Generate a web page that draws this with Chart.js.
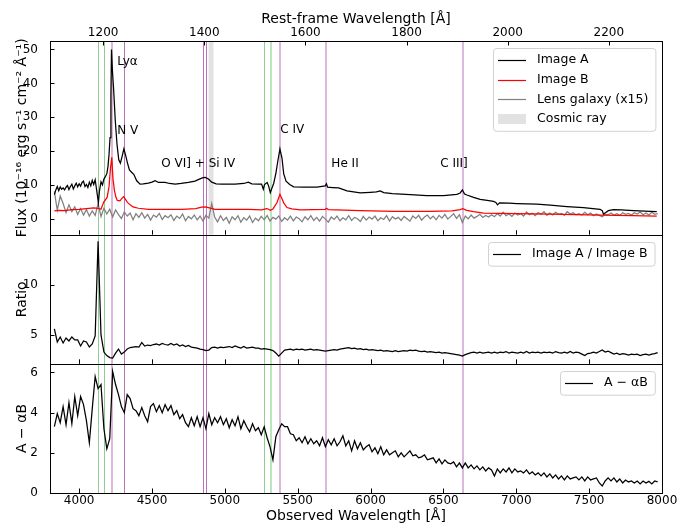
<!DOCTYPE html>
<html>
<head>
<meta charset="utf-8">
<script src="https://cdn.jsdelivr.net/npm/chart.js@4.4.1/dist/chart.umd.min.js"></script>
<style>
  html, body { margin: 0; padding: 0; background: #fff; }
  #spec { display: block; }
</style>
</head>
<body>
<canvas id="spec" width="686" height="527"></canvas>
<script>
// tick labels
const obsTicks = [4000, 4500, 5000, 5500, 6000, 6500, 7000, 7500, 8000];
const restTicks = [1200, 1400, 1600, 1800, 2000, 2200];
const fluxTicks = [0, 10, 20, 30, 40, 50];
const ratioTicks = [5, 10];
const diffTicks = [0, 2, 4, 6];
const onePlusZ = 3.4705;

// Image A and Image B fluxes, [observed wavelength, flux]
const imageA = [
  [3830, 7.2], [3840, 8.6], [3850, 9.6], [3860, 8.4], [3870, 9.5], [3880, 8.8], [3890, 9.2], [3900, 8.6],
  [3910, 9.4], [3920, 9.9], [3930, 8.7], [3940, 9.6], [3950, 10.3], [3960, 8.9], [3970, 9.8], [3980, 10.6],
  [3990, 9.5], [4000, 10.4], [4010, 9.7], [4020, 10.8], [4030, 11.2], [4040, 9.6], [4050, 10.2], [4060, 9.3],
  [4070, 10.9], [4080, 9.8], [4090, 11.4], [4100, 10.2], [4110, 11.6], [4120, 8.6], [4132, 4.8], [4140, 8.5],
  [4150, 11.0], [4160, 10.1], [4170, 11.8], [4180, 12.5], [4190, 13.4], [4198, 15.5], [4205, 19], [4212, 24],
  [4218, 36], [4222, 50], [4228, 44], [4237, 38], [4248, 29], [4260, 22], [4272, 17.5], [4283, 16.5],
  [4295, 18.5], [4307, 20.7], [4318, 19], [4330, 16.8], [4345, 14.5], [4360, 13.8], [4375, 13.2], [4395, 11.3],
  [4418, 10.3], [4440, 10.4], [4475, 10.6], [4500, 10.9], [4521, 11.3], [4545, 10.8], [4590, 10.8], [4620, 10.5],
  [4660, 10.3], [4700, 10.5], [4750, 10.8], [4795, 11.2], [4825, 11.8], [4850, 12.2], [4866, 12.3], [4887, 11.8],
  [4910, 10.9], [4940, 10.4], [4980, 10.3], [5070, 10.3], [5130, 10.5], [5161, 10.9], [5185, 10.4], [5230, 10.3],
  [5252, 10.3], [5264, 8.8], [5272, 10.2], [5290, 10.8], [5300, 9.8], [5312, 7.8], [5322, 9.0], [5335, 10.5],
  [5350, 13.5], [5365, 17.5], [5378, 20.7], [5392, 18.0], [5404, 13.3], [5420, 11.2], [5445, 10.2], [5472, 9.5],
  [5541, 9.4], [5632, 9.4], [5689, 9.8], [5697, 10.4], [5705, 9.4], [5740, 9.3], [5781, 9.2], [5838, 8.3],
  [5929, 7.7], [5998, 7.9], [6040, 8.0], [6066, 8.3], [6090, 7.8], [6150, 7.5], [6272, 7.2], [6386, 6.9],
  [6501, 6.9], [6592, 7.3], [6615, 7.7], [6630, 8.6], [6645, 7.4], [6661, 7.1], [6707, 6.4], [6752, 5.8],
  [6800, 5.5], [6844, 5.2], [6860, 4.9], [6871, 4.2], [6885, 4.8], [6950, 4.7], [7004, 4.6], [7141, 4.4],
  [7233, 4.1], [7347, 3.7], [7461, 3.4], [7575, 2.9], [7590, 2.5], [7598, 1.5], [7612, 1.9], [7632, 2.5],
  [7667, 2.8], [7720, 2.7], [7804, 2.5], [7918, 2.3], [7964, 2.2]
];
const imageB = [
  [3830, 2.4], [3860, 2.6], [3900, 2.5], [3950, 2.8], [4000, 2.9], [4050, 3.1], [4100, 3.3], [4130, 3.2],
  [4150, 2.9], [4169, 5.0], [4192, 6.4], [4205, 9.5], [4215, 15], [4224, 18.2], [4232, 12], [4242, 8.5],
  [4252, 6.5], [4262, 5.5], [4280, 5.4], [4295, 6.2], [4305, 6.6], [4318, 5.8], [4330, 5.0], [4350, 4.2],
  [4370, 3.6], [4407, 3.2], [4475, 2.9], [4600, 2.9], [4704, 2.9], [4800, 3.1], [4841, 3.5], [4866, 3.6],
  [4887, 3.4], [4932, 2.9], [5050, 2.9], [5161, 2.9], [5252, 2.7], [5287, 3.1], [5300, 2.9], [5312, 2.6],
  [5330, 3.0], [5358, 4.9], [5378, 7.3], [5392, 6.0], [5404, 4.8], [5426, 3.4], [5460, 3.0], [5518, 2.7],
  [5690, 2.9], [5697, 3.2], [5710, 2.8], [5929, 2.5], [6158, 2.3], [6400, 2.3], [6560, 2.4], [6615, 2.8],
  [6633, 3.1], [6660, 2.6], [6707, 2.2], [6775, 1.8], [7000, 1.6], [7233, 1.5], [7575, 1.2], [7800, 1.0],
  [7964, 0.9]
];

// regularly sampled spectra: first pixel and pixel width in Angstrom
const gridStart = 3830;
const gridStep = 20;
const lensFlux = [
  8.2, 2.6, 6.8, 4.6, 1.9, 4.2, 2.2, 3.6, 1.4, 3.1,
  1.2, 2.8, 0.9, 2.4, 1.1, 4.6, 0.8, 3.2, 1.5, 2.9,
  0.6, 2.7, 1.3, 0.2, 2.1, 0.9, 1.8, -0.2, 1.6, 0.5,
  1.9, 0.3, 1.4, -0.3, 1.2, 0.6, 1.7, -0.1, 1.0, 0.4,
  1.3, -0.4, 0.9, 0.2, 1.5, -0.5, 0.8, 0.1, 1.2, -0.2,
  0.9, -0.6, 1.1, 0.3, 4.6, 0.6, -0.8, 1.0, -0.4, 0.5,
  -1.2, 0.7, -0.2, 1.0, -0.9, 0.4, -0.3, 0.9, -1.0, 0.3,
  -0.5, 0.8, -0.2, 1.1, -0.6, 0.5, 0.0, 0.9, -0.7, 0.4,
  -0.3, 0.9, -0.5, 0.6, 0.1, -0.8, 0.7, -0.2, 1.0, -0.4,
  0.5, -0.6, 0.8, 0.0, -0.9, 0.6, -0.1, 0.9, -0.5, 0.4,
  -0.2, 1.0, -0.4, 0.5, 0.1, -0.7, 0.8, -0.3, 0.6, 0.0,
  0.9, -0.5, 0.4, -0.1, 1.0, -0.6, 0.7, 0.0, 0.5, -0.4,
  0.8, 0.1, -0.6, 0.9, 0.2, 1.1, -0.3, 0.6, 1.2, 0.1,
  0.9, -0.2, 1.1, 0.3, 1.4, 0.0, 0.8, 1.6, 0.2, 1.3,
  -1.0, 0.9, 0.1, 1.2, 0.3, 0.8, 1.4, 0.5, 1.1, 0.6,
  1.3, 0.7, 1.6, 0.9, 2.0, 1.0, 1.5, 0.8, 1.8, 1.2,
  1.6, 0.9, 2.1, 1.3, 1.7, 1.0, 1.9, 1.4, 2.2, 1.1,
  1.8, 1.2, 2.0, 1.4, 1.7, 1.1, 2.2, 1.5, 1.9, 1.3,
  1.6, 1.2, 2.0, 1.3, 1.8, 1.0, 1.5, 1.1, 0.7, 1.4,
  1.3, 1.8, 1.2, 1.6, 1.1, 1.9, 1.4, 1.7, 1.2, 1.9,
  1.5, 2.1, 1.3, 1.8, 1.2, 2.0, 1.4, 1.6
];
const ratioAB = [
  5.6, 4.3, 4.8, 4.2, 4.7, 4.4, 4.8, 4.5, 4.5, 3.9,
  4.4, 4.3, 3.8, 4.1, 4.9, 14.3, 5.0, 3.3, 2.95, 2.75,
  2.7, 3.2, 3.6, 3.1, 3.3, 3.6, 3.75, 3.8, 3.85, 3.8,
  4.25, 3.9, 4.0, 3.95, 4.05, 4.1, 4.0, 4.15, 4.05, 4.0,
  4.15, 4.0, 4.1, 3.9, 4.0, 3.85, 3.95, 3.8, 3.75, 3.7,
  3.6, 3.55, 3.45, 3.5, 3.75, 3.8, 3.7, 3.8, 3.75, 3.8,
  3.85, 3.75, 3.9, 3.8, 3.7, 3.85, 3.7, 3.75, 3.8, 3.7,
  3.7, 3.6, 3.65, 3.6, 3.55, 3.45, 3.2, 2.9, 3.2, 3.5,
  3.55, 3.6, 3.5, 3.6, 3.55, 3.6, 3.5, 3.55, 3.6, 3.5,
  3.55, 3.5, 3.45, 3.4, 3.45, 3.5, 3.55, 3.5, 3.6, 3.65,
  3.7, 3.75, 3.65, 3.7, 3.6, 3.65, 3.55, 3.6, 3.5, 3.55,
  3.5, 3.45, 3.5, 3.4, 3.45, 3.4, 3.35, 3.45, 3.35, 3.4,
  3.45, 3.4, 3.5, 3.45, 3.5, 3.4, 3.35, 3.4, 3.3, 3.35,
  3.3, 3.25, 3.3, 3.2, 3.25, 3.2, 3.15, 3.1, 3.05, 3.0,
  2.9, 3.05, 3.15, 3.25, 3.3, 3.2, 3.3, 3.2, 3.25, 3.3,
  3.2, 3.3, 3.2, 3.3, 3.25, 3.35, 3.2, 3.3, 3.25, 3.2,
  3.3, 3.2, 3.35, 3.2, 3.3, 3.25, 3.3, 3.2, 3.3, 3.25,
  3.3, 3.2, 3.35, 3.25, 3.2, 3.3, 3.2, 3.35, 3.2, 3.3,
  3.25, 3.1, 2.95, 3.15, 3.2, 3.3, 3.2, 3.35, 3.5, 3.3,
  3.4, 3.25, 3.1, 3.2, 3.05, 3.15, 3.1, 3.0, 3.1, 3.05,
  3.1, 2.95, 3.05, 3.1, 3.0, 3.1, 3.15, 3.25
];
const diffAB = [
  3.3, 3.95, 3.5, 4.3, 3.4, 4.5, 3.45, 4.8, 3.85, 4.8,
  4.4, 3.6, 2.5, 4.2, 5.8, 5.2, 5.4, 3.2, 2.2, 2.7,
  6.05, 5.4, 4.9, 4.3, 4.0, 4.9, 4.7, 4.2, 4.1, 3.85,
  4.25, 3.85, 3.55, 4.3, 4.45, 4.05, 4.35, 4.0, 4.4, 4.1,
  4.35, 3.9, 4.1, 3.7, 3.9, 3.5, 3.3, 3.75, 3.35, 3.8,
  3.3, 3.75, 3.2, 3.95, 3.4, 3.75, 3.5, 3.8, 3.4, 3.7,
  3.25, 3.65, 3.35, 3.8, 3.2, 3.6, 3.3, 3.05, 3.45, 3.1,
  3.25, 2.9, 3.3, 2.75, 2.3, 1.65, 2.8, 3.15, 3.45, 3.3,
  3.3, 2.95, 2.9, 2.6, 2.75, 2.5, 2.8, 2.45, 2.7, 2.45,
  2.6, 2.35, 2.75, 2.3, 2.65, 2.4, 2.7, 2.35, 2.55, 2.85,
  2.35, 2.6, 2.1, 2.6, 2.2, 2.5, 2.15, 2.3, 2.4, 2.05,
  2.25, 1.95, 2.3, 1.9, 2.15, 1.9, 2.0, 2.1, 1.8, 2.0,
  1.8, 1.95, 2.1, 1.85, 1.9, 1.75, 1.8, 1.9, 1.65, 1.7,
  1.75, 1.5, 1.7, 1.45, 1.65, 1.5, 1.45, 1.55, 1.3, 1.5,
  1.25, 1.5, 1.25, 1.4, 1.2, 1.35, 1.15, 1.3, 1.1, 1.25,
  1.15, 0.85, 1.2, 1.0, 1.2, 1.05, 1.25, 1.0, 1.2, 1.05,
  1.1, 1.0, 1.15, 0.95, 1.05, 0.9, 1.0, 0.85, 1.0, 0.8,
  0.95, 0.75, 0.9, 0.7, 0.85, 0.65, 0.85, 0.7, 0.75, 0.8,
  0.65, 0.8, 0.6, 0.8, 0.65, 0.7, 0.75, 0.5, 0.35, 0.6,
  0.75, 0.6, 0.75, 0.55, 0.7, 0.5, 0.65, 0.55, 0.6, 0.5,
  0.6, 0.45, 0.6, 0.5, 0.58, 0.45, 0.6, 0.55
];

// marked wavelengths (observed frame)
const absorberLines = [4130, 4171, 5266];
const absorberLinesFaint = [5317];
const emissionLines = [4309, 4850, 4868];
const emissionLinesFaint = [4226, 5381, 5696, 6636];
const cosmicRay = [4888, 4922];
const lineNames = ["Lyα", "N V", "O VI] + Si IV", "C IV", "He II", "C III]"];
const lineNameAt = [[4261, 46.3], [4261, 26.1], [4564, 16.4], [5381, 26.3], [5731, 16.3], [6478, 16.3]];

const FAMILY = "'DejaVu Sans', sans-serif";
Chart.defaults.font.family = FAMILY;
Chart.defaults.color = "#000";

const onGrid = (vals) => vals.map((v, i) => ({ x: gridStart + i * gridStep, y: v }));
const pairs = (arr) => arr.map(([x, y]) => ({ x, y }));

function drawLegend(ctx, right, top, entries) {
    ctx.font = `12.5px ${FAMILY}`;
    const rowH = 19.7;
    const textW = Math.max(...entries.map((e) => ctx.measureText(e.label).width));
    const w = 44 + textW + 7;
    const h = entries.length * rowH + 4;
    const left = Math.round(right - w);
    ctx.beginPath();
    ctx.roundRect(left + 0.5, Math.round(top) + 0.5, w, h, 3);
    ctx.fillStyle = "rgba(255,255,255,0.8)";
    ctx.fill();
    ctx.strokeStyle = "rgba(204,204,204,0.9)";
    ctx.lineWidth = 1;
    ctx.stroke();
    entries.forEach((e, i) => {
        const cy = top + 2 + rowH * (i + 0.5);
        if (e.patch) {
            ctx.fillStyle = e.color;
            ctx.fillRect(left + 5, cy - 5, 28, 10);
        } else {
            ctx.strokeStyle = e.color;
            ctx.lineWidth = 1.2;
            ctx.beginPath();
            ctx.moveTo(left + 5, Math.round(cy) + 0.5);
            ctx.lineTo(left + 33, Math.round(cy) + 0.5);
            ctx.stroke();
        }
        ctx.fillStyle = "#000";
        ctx.textAlign = "left";
        ctx.textBaseline = "middle";
        ctx.fillText(e.label, left + 44, cy);
    });
}

const decorations = {
    id: "decorations",
    beforeDatasetsDraw(chart) {
        const { ctx, chartArea: ca, scales } = chart;
        const x = scales.x;
        ctx.save();
        const yt = scales.yFlux;
        const c0 = x.getPixelForValue(cosmicRay[0]);
        const c1 = x.getPixelForValue(cosmicRay[1]);
        ctx.fillStyle = "#e2e2e2";
        ctx.fillRect(c0, yt.top, c1 - c0, yt.bottom - yt.top);

        const vlines = (list, color, width) => {
            ctx.strokeStyle = color;
            ctx.lineWidth = width;
            ctx.beginPath();
            for (const w of list) {
                const px = Math.round(x.getPixelForValue(w)) + (width % 2 ? 0.5 : 0);
                ctx.moveTo(px, ca.top);
                ctx.lineTo(px, ca.bottom);
            }
            ctx.stroke();
        };
        vlines(absorberLines, "rgba(0,128,0,0.42)", 1);
        vlines(absorberLinesFaint, "rgba(0,150,0,0.26)", 2);
        vlines(emissionLines, "rgba(128,0,128,0.55)", 1);
        vlines(emissionLinesFaint, "rgba(128,0,128,0.28)", 2);
        ctx.restore();
    },
    afterDraw(chart) {
        const { ctx, chartArea: ca, scales } = chart;
        const panels = [scales.yFlux, scales.yRatio, scales.yDiff];
        ctx.save();
        ctx.strokeStyle = "#000";
        ctx.lineWidth = 1;
        ctx.beginPath();
        for (const p of panels) {
            for (const t of p.ticks) {
                const y = Math.round(p.getPixelForValue(t.value)) + 0.5;
                ctx.moveTo(ca.left, y);
                ctx.lineTo(ca.left + 4.5, y);
            }
            for (const t of scales.x.ticks) {
                const px = Math.round(scales.x.getPixelForValue(t.value)) + 0.5;
                ctx.moveTo(px, p.bottom);
                ctx.lineTo(px, p.bottom - 4.5);
            }
        }
        for (const t of scales.x2.ticks) {
            const px = Math.round(scales.x2.getPixelForValue(t.value)) + 0.5;
            ctx.moveTo(px, ca.top);
            ctx.lineTo(px, ca.top + 4.5);
        }
        ctx.stroke();

        const l = Math.round(ca.left) + 0.5;
        const r = Math.round(ca.right) + 0.5;
        for (const p of panels) {
            ctx.strokeRect(l, Math.round(p.top) + 0.5, r - l, Math.round(p.bottom) - Math.round(p.top));
        }

        // observed-wavelength tick labels
        ctx.font = `12px ${FAMILY}`;
        ctx.fillStyle = "#000";
        ctx.textAlign = "center";
        ctx.textBaseline = "middle";
        for (const t of scales.x.ticks) {
            ctx.fillText(String(t.value), scales.x.getPixelForValue(t.value), ca.bottom + 8);
        }

        // emission line names
        ctx.textAlign = "left";
        lineNames.forEach((name, i) => {
            const [w, f] = lineNameAt[i];
            ctx.fillText(name, scales.x.getPixelForValue(w), scales.yFlux.getPixelForValue(f));
        });

        // one legend per panel
        const ds = chart.data.datasets;
        const entriesFor = (id) => ds.filter((d) => d.yAxisID === id)
            .map((d) => ({ label: d.label, color: d.borderColor }));
        drawLegend(ctx, ca.right - 7, scales.yFlux.top + 7,
            entriesFor("yFlux").concat([{ label: "Cosmic ray", color: "#e2e2e2", patch: true }]));
        drawLegend(ctx, ca.right - 7, scales.yRatio.top + 7.5, entriesFor("yRatio"));
        drawLegend(ctx, ca.right - 7, scales.yDiff.top + 7.5, entriesFor("yDiff"));
        ctx.restore();
    },
};

const tickFont = { family: FAMILY, size: 12 };
const titleFont = { family: FAMILY, size: 14 };
const fixedTicks = (list) => (s) => { s.ticks = list.map((v) => ({ value: v })); };

function panelAxis(min, max, ticks, weight, title) {
    return {
        type: "linear",
        position: "left",
        stack: "panels",
        stackWeight: weight,
        min, max,
        grid: { display: false },
        border: { display: false },
        ticks: { font: tickFont, color: "#000", padding: 4, callback: (v) => String(v) },
        afterBuildTicks: fixedTicks(ticks),
        afterFit: (s) => { s.width = 50; },
        title: { display: true, text: title, font: titleFont, color: "#000", padding: { top: 13.5, bottom: 0 } },
    };
}

const line = (label, data, color, axis) => ({
    label, data, yAxisID: axis,
    borderColor: color, borderWidth: 1.25,
    pointRadius: 0, tension: 0, fill: false,
});

new Chart(document.getElementById("spec"), {
    type: "line",
    data: {
        datasets: [
            line("Image A", pairs(imageA), "#000000", "yFlux"),
            line("Image B", pairs(imageB), "#ff0000", "yFlux"),
            line("Lens galaxy (x15)", onGrid(lensFlux), "#808080", "yFlux"),
            line("Image A / Image B", onGrid(ratioAB), "#000000", "yRatio"),
            line("A − αB", onGrid(diffAB), "#000000", "yDiff"),
        ],
    },
    options: {
        responsive: false,
        animation: false,
        devicePixelRatio: 1,
        layout: { padding: { left: 0, right: 24, top: 0, bottom: 0 } },
        plugins: { legend: { display: false }, tooltip: { enabled: false } },
        scales: {
            x: {
                type: "linear", position: "bottom", min: 3800, max: 8000,
                grid: { display: false },
                border: { display: false },
                ticks: { display: false },
                afterBuildTicks: fixedTicks(obsTicks),
                afterFit: (s) => { s.height = 34; },
                title: { display: true, text: "Observed Wavelength [Å]", font: titleFont, color: "#000", padding: { top: 0, bottom: 2.5 } },
            },
            x2: {
                type: "linear", position: "top",
                min: 3800 / onePlusZ, max: 8000 / onePlusZ,
                grid: { display: false },
                border: { display: false },
                ticks: { font: tickFont, color: "#000", padding: -7, maxRotation: 0, autoSkip: false, callback: (v) => String(v) },
                afterBuildTicks: fixedTicks(restTicks),
                afterFit: (s) => { s.height = 41; },
                title: { display: true, text: "Rest-frame Wavelength [Å]", font: titleFont, color: "#000", padding: { top: 10.5, bottom: 0 } },
            },
            yDiff: panelAxis(0, 6.43, diffTicks, 1, "A − αB"),
            yRatio: panelAxis(2.13, 14.95, ratioTicks, 1, "Ratio"),
            yFlux: panelAxis(-4.6, 52.5, fluxTicks, 1.5, "Flux (10⁻¹⁶ erg s⁻¹ cm⁻² Å⁻¹)"),
        },
    },
    plugins: [decorations],
});
</script>
</body>
</html>
